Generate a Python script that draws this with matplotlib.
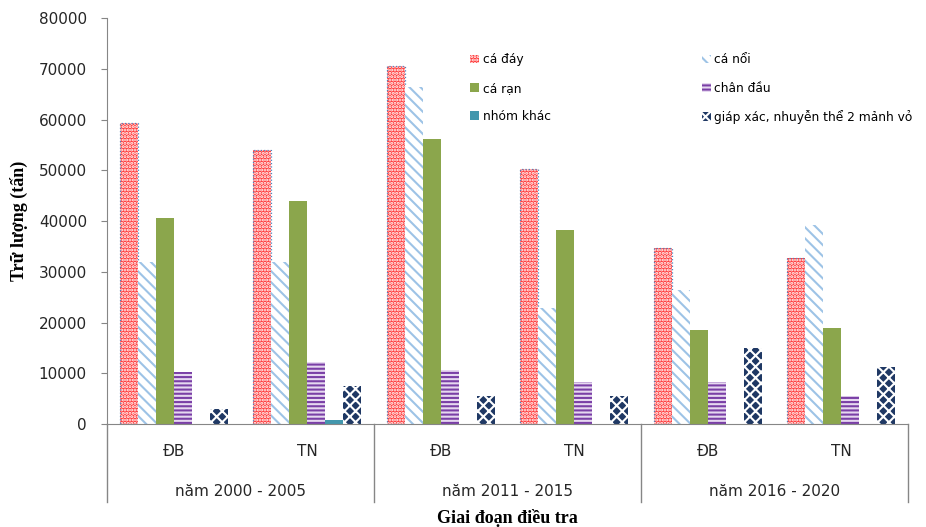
import numpy as np
import matplotlib
matplotlib.use("Agg")
import matplotlib.pyplot as plt
from matplotlib.lines import Line2D

plt.rcParams['font.family'] = ['DejaVu Sans']
plt.rcParams['hatch.linewidth'] = 1.5

# Trữ lượng theo nhóm loài, mỗi vùng (ĐB, TN) trong từng giai đoạn
vung = ["ĐB", "TN", "ĐB", "TN", "ĐB", "TN"]
giai_doan = ["năm 2000 - 2005", "năm 2011 - 2015", "năm 2016 - 2020"]

ca_day = [59300, 54000, 70600, 50200, 34600, 32700]
ca_noi = [32000, 32000, 66500, 22900, 26500, 39200]
ca_ran = [40500, 44000, 56200, 38300, 18600, 19000]
chan_dau = [10300, 12200, 10600, 8200, 8200, 5500]
nhom_khac = [0, 800, 0, 0, 0, 0]
giap_xac = [3000, 7500, 5500, 5500, 15000, 11300]

ten_nhom = ["cá đáy", "cá nổi", "cá rạn", "chân đầu", "nhóm khác",
            "giáp xác, nhuyễn thể 2 mảnh vỏ"]
so_lieu = [ca_day, ca_noi, ca_ran, chan_dau, nhom_khac, giap_xac]

# kiểu tô cho từng nhóm: (màu nền, màu vân, vân)
kieu = [
    ("#ff3b3b", "white", "....."),
    ("white", "#9dc3e6", "\\\\\\"),
    ("#8ba64c", "#8ba64c", None),
    ("#e6d8f0", "#7a3fa6", "----"),
    ("#4397ad", "#4397ad", None),
    ("#1f3864", "white", "xxx"),
]

fig = plt.figure(figsize=(9.26, 5.27), dpi=100)
ax = fig.add_axes([0.1156, 0.1954, 0.865, 0.7704])

x = np.arange(len(vung))
w = 0.135
handles = []
for i, (vals, (fc, hc, hatch)) in enumerate(zip(so_lieu, kieu)):
    pos = x + (i - 2.5) * w
    b = ax.bar(pos, vals, w, color=fc, edgecolor=hc, hatch=hatch, linewidth=0)
    if i == 0:
        # viền chấm xanh quanh cột cá đáy
        ax.bar(pos, vals, w, fill=False, edgecolor="#4f81bd", linewidth=0.9,
               linestyle=":")
    handles.append(b)

ax.set_xlim(-0.5, 5.5)
ax.set_ylim(0, 80000)
ax.set_yticks(np.arange(0, 80001, 10000))
ax.tick_params(axis="y", labelsize=11, color="#868686", length=4.5, pad=10,
               labelcolor="#262626")
ax.set_xticks([])
for s in ["top", "right"]:
    ax.spines[s].set_visible(False)
for s in ["left", "bottom"]:
    ax.spines[s].set_color("#868686")

# trục phân loại hai tầng
tr = ax.get_xaxis_transform()
for xv in [-0.5, 1.5, 3.5, 5.5]:
    ax.add_line(Line2D([xv, xv], [0, -0.193], transform=tr, color="#868686",
                       lw=1, clip_on=False))
for xi, ten in zip(x, vung):
    ax.text(xi, -0.068, ten, transform=tr, ha="center", va="center",
            fontsize=11, color="#262626")
for k, ten in enumerate(giai_doan):
    ax.text(2 * k + 0.5, -0.166, ten, transform=tr, ha="center", va="center",
            fontsize=11, color="#262626")

ax.set_ylabel("Trữ lượng (tấn)", family="Liberation Serif", fontweight="bold",
              fontsize=13, labelpad=8)
fig.text(0.548, 0.018, "Giai đoạn điều tra", family="Liberation Serif",
         fontweight="bold", fontsize=13, ha="center", va="center")

order = [0, 2, 4, 1, 3, 5]
ax.legend([handles[i] for i in order], [ten_nhom[i] for i in order],
          ncol=2, frameon=False, loc="upper left",
          bbox_to_anchor=(0.44, 0.94), fontsize=8.8, handlelength=0.7,
          handleheight=0.7, handletextpad=0.3, labelspacing=1.25,
          columnspacing=12.4)

plt.savefig("out.png", dpi=100)
